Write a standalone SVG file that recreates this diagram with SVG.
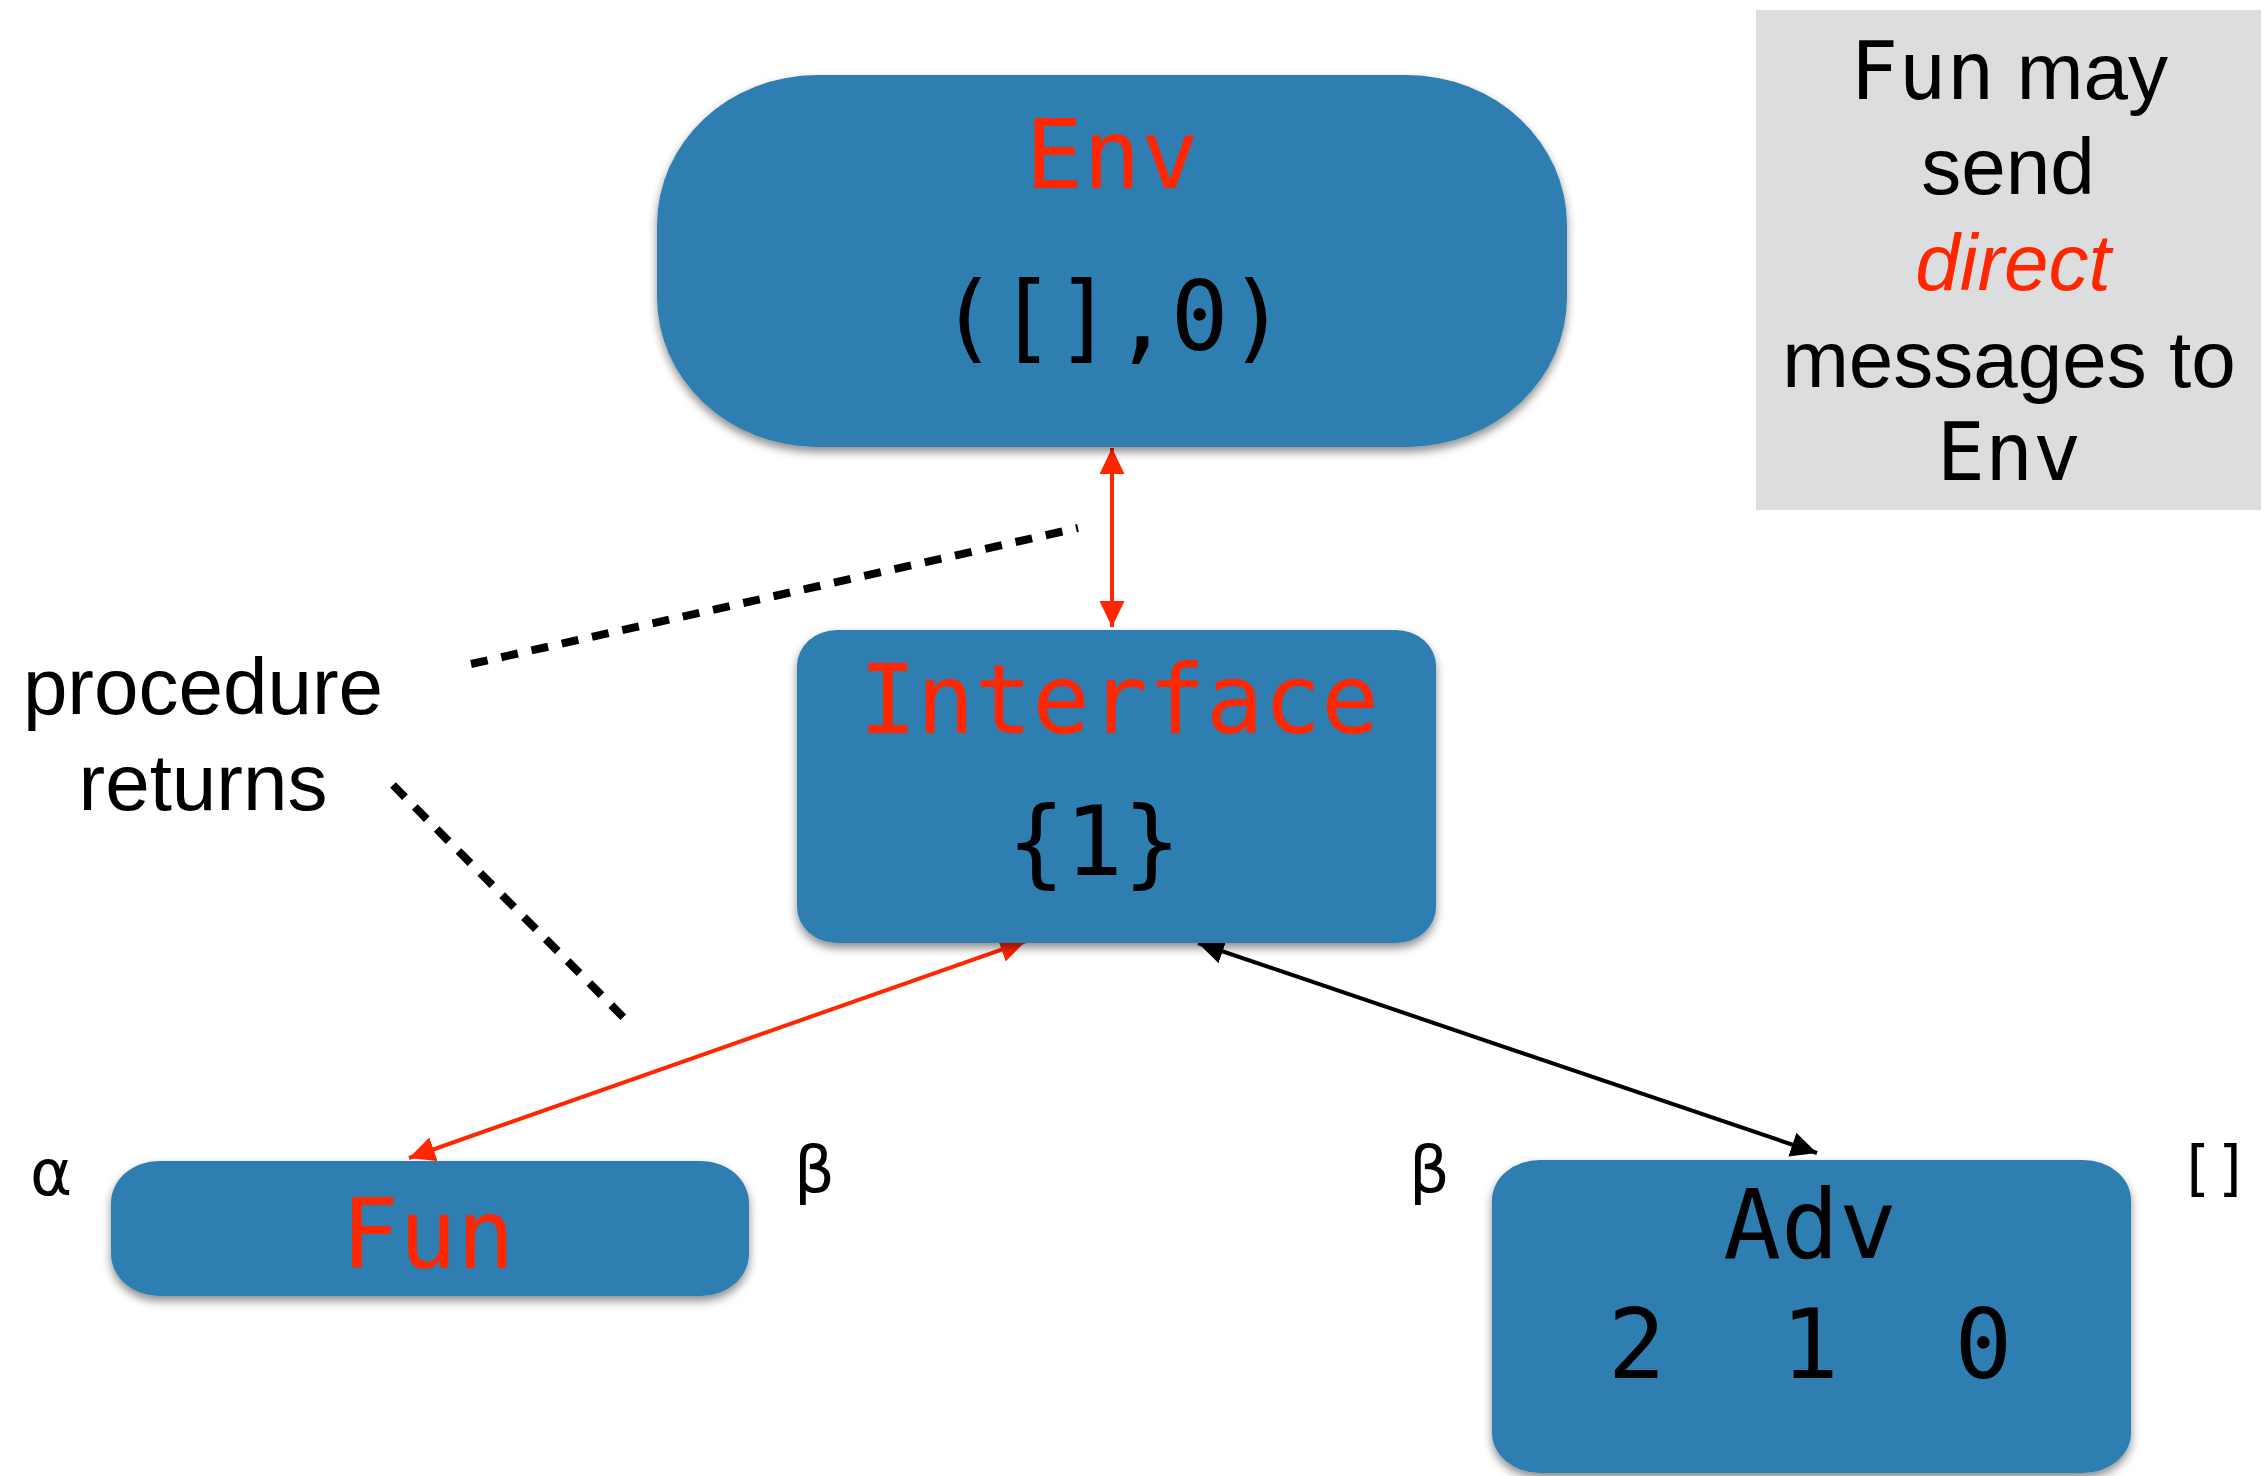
<svg xmlns="http://www.w3.org/2000/svg" width="2263" height="1476" viewBox="0 0 2263 1476">
  <style>
    .node { fill: #2f7eb1; filter: url(#shadow); }
    .mono { font-family: "DejaVu Sans Mono", "Liberation Mono", monospace; font-size: 96px; text-anchor: middle; }
    .sans { font-family: "Liberation Sans", Arial, sans-serif; font-size: 80px; text-anchor: middle; fill: #000000; }
    .greek { font-family: "DejaVu Sans", "Liberation Sans", sans-serif; font-size: 64px; fill: #000000; }
    .red { fill: #ff2600; }
    .blk { fill: #000000; }
    text.sans.red { fill: #ff2600; }
    .kw { font-family: "DejaVu Sans Mono", monospace; }
    .bracket { font-size: 60px; }
    .edge-red { stroke: #ff2600; stroke-width: 4; fill: none; marker-start: url(#headRed); marker-end: url(#headRed); }
    .edge-blk { stroke: #000000; stroke-width: 4; fill: none; marker-start: url(#headBlk); marker-end: url(#headBlk); }
    .dash { stroke: #000000; stroke-width: 8; stroke-dasharray: 17 14; fill: none; }
  </style>
  <defs>
    <filter id="shadow" x="-10%" y="-10%" width="120%" height="130%">
      <feDropShadow dx="0" dy="5" stdDeviation="5" flood-color="#000000" flood-opacity="0.45"/>
    </filter>
    <marker id="headRed" markerUnits="userSpaceOnUse" markerWidth="27" markerHeight="26" refX="26" refY="12.5" orient="auto-start-reverse">
      <path d="M0,0 L26,12.5 L0,25 Z" fill="#ff2600"/>
    </marker>
    <marker id="headBlk" markerUnits="userSpaceOnUse" markerWidth="27" markerHeight="26" refX="26" refY="12.5" orient="auto-start-reverse">
      <path d="M0,0 L26,12.5 L0,25 Z" fill="#000000"/>
    </marker>
  </defs>

  <rect width="2263" height="1476" fill="#ffffff"/>

  <!-- note box -->
  <g id="note">
    <rect x="1756" y="10" width="505" height="500" fill="#dcdddf"/>
    <text class="sans" x="2009" y="99"><tspan class="kw">Fun</tspan> may</text>
    <text class="sans" x="2008" y="194">send</text>
    <text class="sans red" x="2013" y="290" font-style="italic">direct</text>
    <text class="sans" x="2009" y="387">messages to</text>
    <text class="sans kw" x="2009" y="480">Env</text>
  </g>

  <!-- annotation -->
  <g id="annotation">
    <text class="sans" x="203" y="714">procedure</text>
    <text class="sans" x="203" y="810">returns</text>
    <line class="dash" x1="471" y1="664" x2="1078" y2="528"/>
    <line class="dash" x1="393" y1="785" x2="629" y2="1023"/>
  </g>

  <!-- connectors -->
  <g id="connectors">
    <line class="edge-red" x1="1112" y1="448" x2="1112" y2="627"/>
    <line class="edge-red" x1="409" y1="1158" x2="1026" y2="941"/>
    <line class="edge-blk" x1="1198" y1="943" x2="1817" y2="1153"/>
  </g>

  <g id="env">
    <rect class="node" x="657" y="75" width="910" height="372" rx="160" ry="150"/>
    <text class="mono red" x="1112" y="188">Env</text>
    <text class="mono blk" x="1113" y="350">([],0)</text>
  </g>

  <g id="interface">
    <rect class="node" x="797" y="630" width="639" height="313" rx="40" ry="36"/>
    <text class="mono red" x="1119" y="733">Interface</text>
    <text class="mono blk" x="1094" y="875">{1}</text>
  </g>

  <g id="fun">
    <rect class="node" x="111" y="1161" width="638" height="135" rx="48" ry="42"/>
    <text class="mono red" x="428" y="1268">Fun</text>
  </g>

  <g id="adv">
    <rect class="node" x="1492" y="1160" width="639" height="313" rx="48" ry="40"/>
    <text class="mono blk" x="1810" y="1258">Adv</text>
    <text class="mono blk" x="1810" y="1378" xml:space="preserve">2  1  0</text>
  </g>

  <!-- side labels -->
  <g id="labels">
    <text class="greek" x="30" y="1195">α</text>
    <text class="greek" x="794" y="1192">β</text>
    <text class="greek" x="1409" y="1192">β</text>
    <text class="mono blk bracket" x="2214" y="1189">[]</text>
  </g>
</svg>
